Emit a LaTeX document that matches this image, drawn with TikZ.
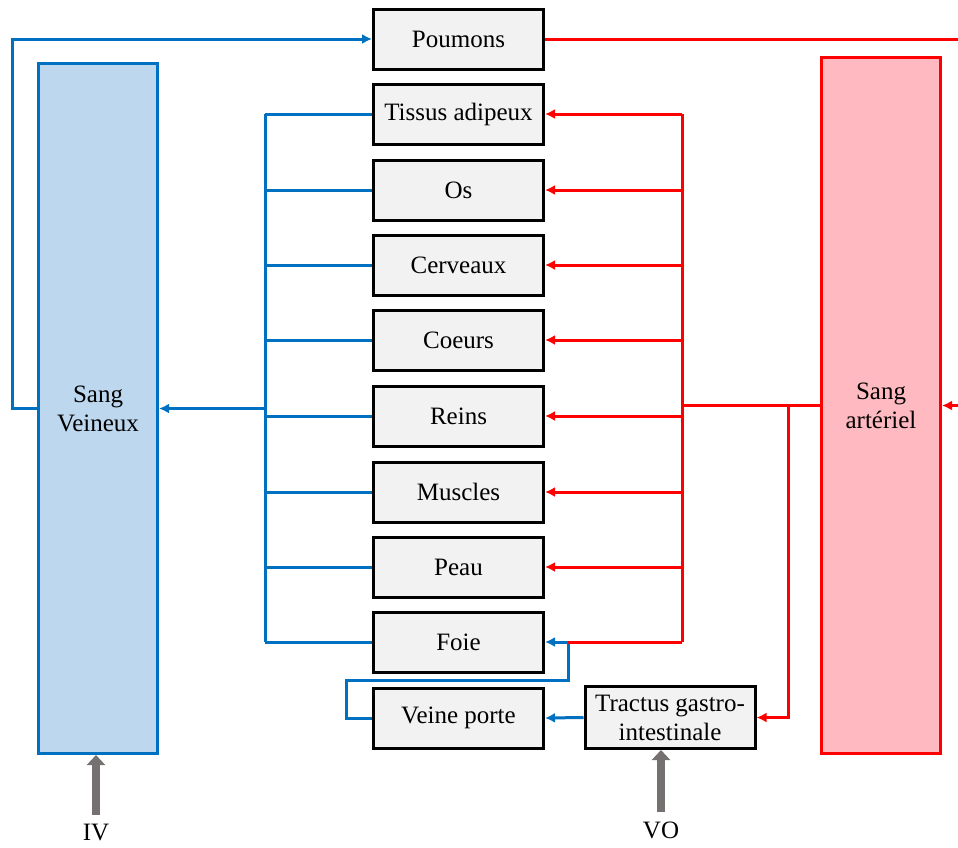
\documentclass[tikz,border=0pt]{standalone}
\usepackage{fontspec}
\setmainfont{Liberation Serif}
\newfontfamily\diagramFont{Liberation Serif}
\usetikzlibrary{positioning, arrows.meta}
\definecolor{venColor}{RGB}{0,112,192}
\definecolor{artColor}{RGB}{255,0,0}
\definecolor{venFill}{RGB}{189,215,238}
\definecolor{artFill}{RGB}{255,185,192}
\definecolor{organFill}{RGB}{242,242,242}
\definecolor{inputColor}{RGB}{118,113,113}
\tikzstyle{diagram} = [x = .5pt, y = -.5pt, font=\diagramFont\fontsize{12.5}{14.5}\selectfont]
\tikzstyle{organBox} = [draw=black, fill=organFill, line width=1.5pt, minimum width=85pt, minimum height=30pt, inner sep=0pt, align=center]
\tikzstyle{bloodBox} = [line width=1.5pt, minimum width=59.5pt, inner sep=0pt, align=center]
\tikzstyle{venLine} = [color=venColor, line width=1.5pt]
\tikzstyle{artLine} = [color=artColor, line width=1.5pt]
\tikzstyle{flowTip} = [-{Latex[length=5pt, width=5pt]}]
\tikzstyle{inputArrow} = [color=inputColor, line width=4pt, -{Triangle[length=5pt, width=9pt]}]
\newcommand{\organ}[3]{
  \node [organBox] (#1) at (458.5, #2) {#3};
  \draw [venLine] (#1.west) -- (#1.west -| venTrunk);
}
\newcommand{\feed}[1]{\draw [artLine, flowTip] (#1.east -| artTrunk) -- (#1.east);}

\begin{document}
\begin{tikzpicture}[diagram]
  \useasboundingbox (0,0) rectangle (958,847);
  \coordinate (venTrunk) at (265,0);
  \coordinate (artTrunk) at (682,0);
  \coordinate (loopLeft) at (12,0);
  \coordinate (rightEdge) at (958,0);
  \coordinate (gutBranch) at (788,0);
  \coordinate (foieJoin) at (568,0);
  \coordinate (porteLeft) at (346,0);
  \coordinate (porteTop) at (0,680);

  % compartiments sanguins
  \node [bloodBox, draw=venColor, fill=venFill, minimum height=345pt] (veineux) at (98,408.5) {Sang\\Veineux};
  \node [bloodBox, draw=artColor, fill=artFill, minimum height=348pt] (arteriel) at (881,405.5) {Sang\\artériel};

  % organes
  \node [organBox] (poumons) at (458.5,39) {Poumons};
  \organ{tissus}{114}{Tissus adipeux}
  \organ{os}{190}{Os}
  \organ{cerveaux}{265}{Cerveaux}
  \organ{coeurs}{340}{Coeurs}
  \organ{reins}{416}{Reins}
  \organ{muscles}{492}{Muscles}
  \organ{peau}{567}{Peau}
  \organ{foie}{642}{Foie}
  \node [organBox] (porte) at (458.5,718) {Veine porte};
  \node [organBox, minimum height=31pt] (tractus) at (670,717.5) {Tractus gastro-\\intestinale};

  % circulation veineuse
  \draw [venLine] (tissus.west -| venTrunk) -- (foie.west -| venTrunk);
  \draw [venLine, flowTip] (veineux.east -| venTrunk) -- (veineux.east);
  \draw [venLine, flowTip] (veineux.west) -- (veineux.west -| loopLeft) |- (poumons.west);
  \draw [venLine, flowTip] (tractus.west) -- (porte.east);
  \draw [venLine, flowTip] (porte.west) -- (porte.west -| porteLeft) |- (porteTop -| foieJoin) -- (foie.east -| foieJoin) -- (foie.east);

  % circulation arterielle
  \draw [artLine] (poumons.east) -- (poumons.east -| rightEdge);
  \draw [artLine, flowTip] (arteriel.east -| rightEdge) -- (arteriel.east);
  \draw [artLine] (tissus.east -| artTrunk) -- (foie.east -| artTrunk);
  \draw [artLine] (arteriel.west) -- (arteriel.west -| artTrunk);
  \draw [artLine, flowTip] (arteriel.west -| gutBranch) |- (tractus.east);
  \feed{tissus}
  \feed{os}
  \feed{cerveaux}
  \feed{coeurs}
  \feed{reins}
  \feed{muscles}
  \feed{peau}
  \draw [artLine] (foie.east -| artTrunk) -- (foie.east -| foieJoin);

  % administration
  \node (iv) at (96,832) {IV};
  \node (vo) at (661,830) {VO};
  \draw [inputArrow] (iv.north) ++(0,-2) -- (iv.north |- veineux.south);
  \draw [inputArrow] (vo.north) ++(0,-2) -- (vo.north |- tractus.south);
\end{tikzpicture}
\end{document}
